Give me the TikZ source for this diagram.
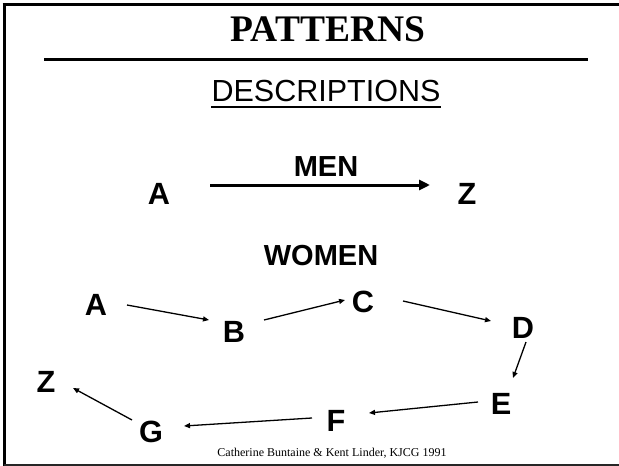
\documentclass[tikz,border=0pt]{standalone}
\usepackage{fontspec}
\setmainfont{Liberation Serif}
\setsansfont{Liberation Sans}
\usetikzlibrary{arrows.meta,calc}

\tikzset{
  letter/.style={inner sep=0pt, font=\sffamily\bfseries\fontsize{30.7}{32}\selectfont},
  heading/.style={inner sep=0pt, anchor=base, font=\sffamily\bfseries\fontsize{29}{31}\selectfont},
  thinarrow/.style={line width=1.3pt, -{Triangle[length=6pt,width=5pt]}},
  thickarrow/.style={line width=3pt, -{Triangle[length=11pt,width=10pt]}},
}

\begin{document}
\begin{tikzpicture}[x=1pt,y=-1pt]
\useasboundingbox (0,0) rectangle (619,466);

% slide frame (left, top and bottom edges)
\draw[line width=3pt] (4,4.5) -- (4,466);
\draw[line width=2.5pt] (2.5,4.5) -- (619,4.5);
\draw[line width=1.5pt, black!85] (4,465) -- (619,465);

% title and its rule
\node[inner sep=0pt, anchor=base, font=\rmfamily\bfseries\fontsize{37.5}{40}\selectfont] (title) at (328,41) {PATTERNS};
\draw[line width=3pt] (44,59) coordinate (ruleL) -- (588,59) coordinate (ruleR);

% subtitle, underlined
\node[inner sep=0pt, anchor=base, font=\sffamily\fontsize{30.5}{32}\selectfont] (desc) at (326,101) {DESCRIPTIONS};
\draw[line width=1.8pt] ($(desc.base west)+(0,6)$) -- ($(desc.base east)+(0,6)$);

% the direct path
\node[letter] (mA) at (159,194) {A};
\node[letter] (mZ) at (467,194) {Z};
\node[heading, anchor=center] (men) at (326,167) {MEN};
\draw[thickarrow] ($(mA)+(51,-9)$) -- ($(mZ)+(-37,-9)$);

% the winding path
\node[heading, anchor=center] (women) at (321,256) {WOMEN};
\node[letter] (wA) at (96,305) {A};
\node[letter] (wB) at (234,332) {B};
\node[letter] (wC) at (363,302) {C};
\node[letter] (wD) at (523,328) {D};
\node[letter] (wE) at (501,404) {E};
\node[letter] (wF) at (336,421) {F};
\node[letter] (wG) at (151,432) {G};
\node[letter] (wZ) at (46,382) {Z};

\draw[thinarrow] ($(wA)+(31,0)$)   -- ($(wB)+(-25,-12)$);
\draw[thinarrow] ($(wB)+(30,-12)$) -- ($(wC)+(-18,-2)$);
\draw[thinarrow] ($(wC)+(40,-1)$)  -- ($(wD)+(-32,-7)$);
\draw[thinarrow] ($(wD)+(3,14)$)   -- ($(wE)+(12,-26)$);
\draw[thinarrow] ($(wE)+(-23,-2)$) -- ($(wF)+(33,-8)$);
\draw[thinarrow] ($(wF)+(-24,-3)$) -- ($(wG)+(33,-6)$);
\draw[thinarrow] ($(wG)+(-19,-12)$) -- ($(wZ)+(27,6)$);

% credit line
\node[inner sep=0pt, anchor=base, font=\rmfamily\fontsize{12}{14}\selectfont] (credit) at (332,456) {Catherine Buntaine \& Kent Linder, KJCG 1991};
\end{tikzpicture}
\end{document}
